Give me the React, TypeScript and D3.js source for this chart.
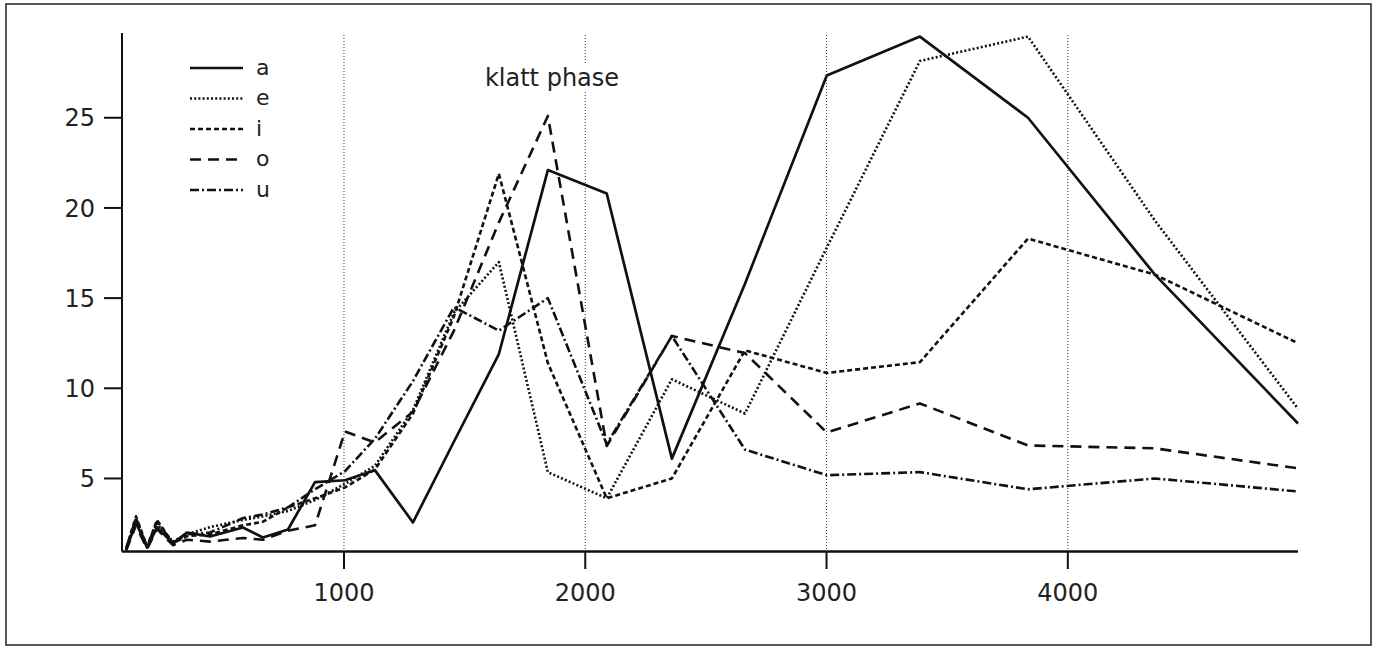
import React from "react";
import { scaleLinear, line } from "d3";

const WIDTH = 1377;
const HEIGHT = 647;
const FONT = "'DejaVu Sans', Verdana, sans-serif";

// frequency bins (Hz), shared by all vowels
const freqs = [
  97, 138, 184, 225, 291, 349, 445, 581, 664, 768, 880, 1004, 1128, 1286,
  1456, 1642, 1845, 2089, 2359, 2662, 3001, 3387, 3835, 4361, 4954,
];

// values per vowel
const vowelA = [
  1.06, 2.56, 1.17, 2.29, 1.4, 2.0, 1.78, 2.28, 1.73, 2.17, 4.8, 4.9, 5.46,
  2.56, 7.05, 11.9, 22.1, 20.8, 6.1, 15.8, 27.35, 29.5, 25.0, 16.3, 8.05,
];
const vowelE = [
  1.1, 2.7, 1.2, 2.5, 1.5, 1.9, 2.3, 2.7, 2.9, 3.2, 3.8, 4.7, 5.7, 8.8,
  14.2, 17.0, 5.35, 3.9, 10.5, 8.6, 17.8, 28.15, 29.5, 19.3, 8.87,
];
const vowelI = [
  1.1, 2.9, 1.2, 2.7, 1.4, 1.8, 1.9, 2.4, 2.6, 3.4, 3.9, 4.5, 5.5, 8.6,
  14.0, 21.9, 11.4, 3.9, 5.0, 12.1, 10.85, 11.45, 18.3, 16.3, 12.5,
];
const vowelO = [
  1.0, 2.4, 1.1, 2.2, 1.3, 1.6, 1.5, 1.7, 1.6, 2.1, 2.4, 7.6, 7.0, 8.7,
  13.2, 19.2, 25.1, 6.8, 12.9, 11.95, 7.55, 9.16, 6.83, 6.67, 5.56,
];
const vowelU = [
  1.1, 2.8, 1.2, 2.6, 1.4, 1.9, 2.0, 2.8, 3.0, 3.4, 4.4, 5.4, 7.2, 10.4,
  14.5, 13.2, 15.0, 6.9, 12.9, 6.6, 5.18, 5.35, 4.4, 5.0, 4.28,
];

const labels = ["a", "e", "i", "o", "u"];
const xTicks = [1000, 2000, 3000, 4000];
const yTicks = [5, 10, 15, 20, 25];
const title = "klatt phase";

// line style per vowel
const dashes = ["none", "2,2.2", "5,3", "11,7", "9,3,2,3"];

export default function App() {
  const series = [vowelA, vowelE, vowelI, vowelO, vowelU];

  const xScale = scaleLinear().domain([80, 4954]).range([122, 1298]);
  const yScale = scaleLinear().domain([0.95, 29.7]).range([551.5, 33]);

  const path = line<number>()
    .x((_, i) => xScale(freqs[i]))
    .y((d) => yScale(d));

  const axisY = yScale.range()[0];
  const axisX = xScale.range()[0];

  return (
    <svg
      width={WIDTH}
      height={HEIGHT}
      style={{ position: "absolute", left: 0, top: 0, background: "#fff" }}
      fontFamily={FONT}
    >
      {/* outer frame */}
      <rect x={6} y={4} width={1365} height={641} fill="none" stroke="#222" strokeWidth={1.5} />

      {/* vertical dotted grid */}
      {xTicks.map((t) => (
        <line
          key={"g" + t}
          x1={xScale(t)}
          x2={xScale(t)}
          y1={35}
          y2={axisY}
          stroke="#333"
          strokeWidth={1}
          strokeDasharray="1,2"
        />
      ))}

      {/* title with white box over the grid */}
      <rect x={484} y={64} width={136} height={28} fill="#fff" />
      <text x={552} y={77} fontSize={24} textAnchor="middle" dy="0.36em" fill="#222">
        {title}
      </text>

      {/* axes */}
      <line x1={axisX} x2={axisX} y1={yScale.range()[1]} y2={axisY} stroke="#111" strokeWidth={2} />
      <line x1={axisX} x2={xScale.range()[1]} y1={axisY} y2={axisY} stroke="#111" strokeWidth={2.5} />

      {yTicks.map((t) => (
        <g key={"y" + t}>
          <line x1={104} x2={axisX} y1={yScale(t)} y2={yScale(t)} stroke="#111" strokeWidth={2} />
          <text x={95} y={yScale(t)} dy="0.36em" fontSize={24} textAnchor="end" fill="#222">
            {t}
          </text>
        </g>
      ))}
      {xTicks.map((t) => (
        <g key={"x" + t}>
          <line x1={xScale(t)} x2={xScale(t)} y1={axisY} y2={569} stroke="#111" strokeWidth={2} />
          <text x={xScale(t)} y={601} fontSize={24} textAnchor="middle" fill="#222">
            {t}
          </text>
        </g>
      ))}

      {/* series */}
      {series.map((s, i) => (
        <path
          key={labels[i]}
          d={path(s) || ""}
          fill="none"
          stroke="#111"
          strokeWidth={i === 0 ? 2.7 : 2.6}
          strokeDasharray={dashes[i]}
          strokeLinejoin="round"
        />
      ))}

      {/* legend */}
      {labels.map((l, i) => {
        const ly = 68 + i * 30.5;
        return (
          <g key={"lg" + l}>
            <line x1={190} x2={243} y1={ly} y2={ly} stroke="#111" strokeWidth={2.6} strokeDasharray={dashes[i]} />
            <text x={256} y={ly} dy="0.3em" fontSize={22} fill="#222">
              {l}
            </text>
          </g>
        );
      })}
    </svg>
  );
}
